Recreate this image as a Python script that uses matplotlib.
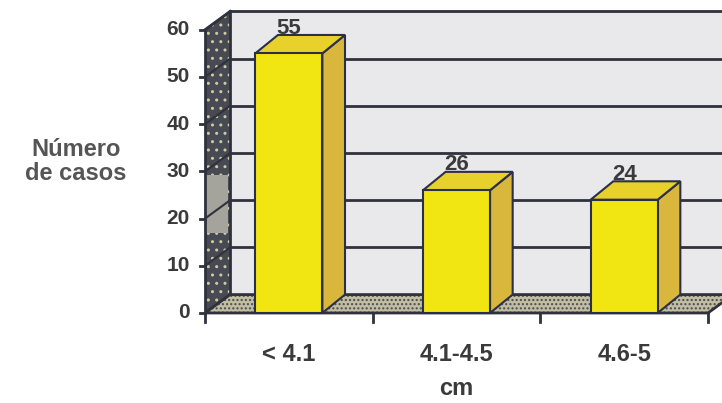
import matplotlib
matplotlib.use("Agg")
import matplotlib.pyplot as plt
from matplotlib.patches import Polygon, Rectangle

plt.rcParams['font.family'] = ['Liberation Sans', 'DejaVu Sans']

categories = ["< 4.1", "4.1-4.5", "4.6-5"]
casos = [55, 26, 24]
yticks = [0, 10, 20, 30, 40, 50, 60]

ymax = 60
wall_dx, wall_dy = 0.15, 3.9     # depth of walls/floor
bar_dx, bar_dy = 0.135, 3.9      # depth of the bars
bar_w = 0.4
ink = '#2f323c'
txt = '#3a3a3a'

fig = plt.figure(figsize=(7.22, 4.03), dpi=100)
ax = fig.add_axes([0, 0, 1, 1])
ax.set_xlim(-1.7227, 2.5835)
ax.set_ylim(-19.07, 66.31)
ax.axis('off')

x0 = -0.5
x1 = len(categories) - 0.5

# back wall
ax.add_patch(Polygon([(x0 + wall_dx, wall_dy), (x1 + wall_dx, wall_dy),
                      (x1 + wall_dx, ymax + wall_dy), (x0 + wall_dx, ymax + wall_dy)],
                     closed=True, facecolor='#e9e9ec', edgecolor='none', zorder=1))
for v in yticks:
    ax.plot([x0 + wall_dx, x1 + wall_dx], [v + wall_dy, v + wall_dy],
            color=ink, lw=2, zorder=2, solid_capstyle='butt')

# side wall (dark granite)
side = [(x0, 0), (x0 + wall_dx, wall_dy), (x0 + wall_dx, ymax + wall_dy), (x0, ymax)]
ax.add_patch(Polygon(side, closed=True, facecolor='#474a52', edgecolor='none', zorder=3))
ax.add_patch(Polygon(side, closed=True, facecolor='none', edgecolor='#cfc9a4',
                     hatch='..', lw=0, zorder=3))
ax.add_patch(Rectangle((x0, 16.9), 0.14, 12.3, facecolor='#a4a49c',
                       edgecolor='none', zorder=3))
for v in yticks:
    ax.plot([x0, x0 + wall_dx], [v, v + wall_dy], color=ink, lw=1.5, zorder=3)
ax.plot([x0 + wall_dx, x0 + wall_dx], [wall_dy, ymax + wall_dy], color=ink, lw=2, zorder=3)
ax.plot([x0, x0 + wall_dx], [ymax, ymax + wall_dy], color=ink, lw=2, zorder=3)

# floor
floor = [(x0, 0), (x1, 0), (x1 + wall_dx, wall_dy), (x0 + wall_dx, wall_dy)]
ax.add_patch(Polygon(floor, closed=True, facecolor='#c2bea2', edgecolor='none', zorder=3))
ax.add_patch(Polygon(floor, closed=True, facecolor='none', edgecolor='#4a4b50',
                     hatch='....', lw=0, zorder=3))
ax.add_patch(Polygon(floor, closed=True, facecolor='none', edgecolor=ink, lw=2, zorder=3))

# axes lines and ticks
ax.plot([x0, x0], [0, ymax], color=ink, lw=2, zorder=4)
for v in yticks:
    ax.plot([x0 - 0.03, x0], [v, v], color=ink, lw=2, zorder=4)
    ax.text(x0 - 0.09, v, str(v), ha='right', va='center', fontsize=15,
            fontweight='bold', color=txt)
for i in range(len(categories) + 1):
    ax.plot([x0 + i, x0 + i], [0, -2.0], color=ink, lw=2, zorder=4)

# 3D bars
for i, (cat, val) in enumerate(zip(categories, casos)):
    l, r = i - bar_w / 2, i + bar_w / 2
    side_face = [(r, 0), (r + bar_dx, bar_dy), (r + bar_dx, val + bar_dy), (r, val)]
    top_face = [(l, val), (r, val), (r + bar_dx, val + bar_dy), (l + bar_dx, val + bar_dy)]
    ax.add_patch(Polygon(side_face, closed=True, facecolor='#d8b73c',
                         edgecolor='#2b2f4a', lw=1.5, zorder=5))
    ax.add_patch(Polygon(top_face, closed=True, facecolor='#e8d12a',
                         edgecolor='#2b2f4a', lw=1.5, zorder=5))
    ax.add_patch(Rectangle((l, 0), bar_w, val, facecolor='#f1e612',
                           edgecolor='#2b2f4a', lw=1.5, zorder=6))
    ax.text(i, val + bar_dy + 0.3, str(val), ha='center', va='baseline',
            fontsize=16, fontweight='bold', color=txt, zorder=7)
    ax.text(i, -8.9, cat, ha='center', va='center', fontsize=17,
            fontweight='bold', color=txt)

ax.text(1, -16.0, "cm", ha='center', va='center', fontsize=17,
        fontweight='bold', color=txt)
ax.text(-1.27, 32.0, "Número\nde casos", ha='center', va='center', fontsize=17,
        fontweight='bold', color='#555555', linespacing=1.05)

fig.savefig("out.png", dpi=100, facecolor='white')
